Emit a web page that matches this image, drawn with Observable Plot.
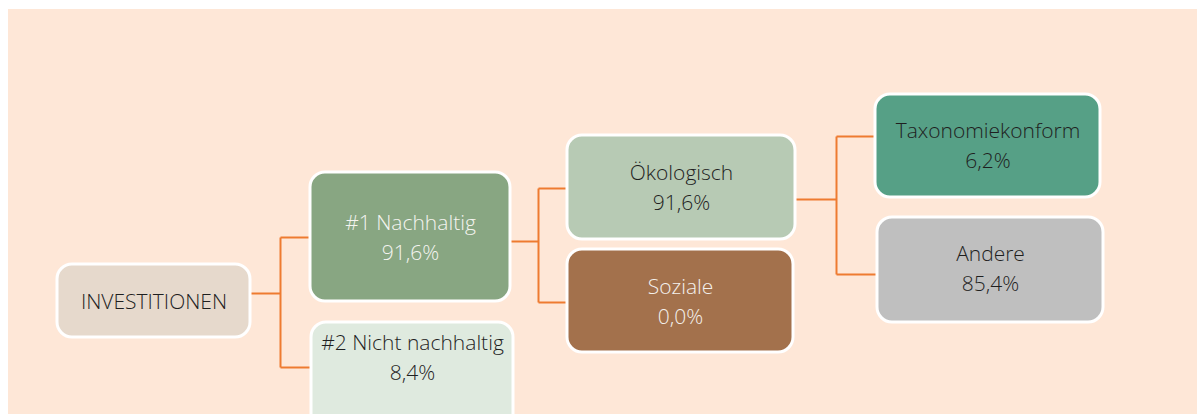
<!DOCTYPE html>
<html>
<head>
<meta charset="utf-8">
<script src="https://cdn.jsdelivr.net/npm/d3@7"></script>
<script src="https://cdn.jsdelivr.net/npm/@observablehq/plot@0.6"></script>
<style>
  html, body { margin: 0; padding: 0; background: #ffffff; overflow: hidden; }
  #chart { position: absolute; left: 8px; top: 9px; }
  #chart svg { background: #fee7d7; display: block; }
</style>
</head>
<body>
<div id="chart"></div>
<script>
// ---- data ----
const nodes   = ["INVESTITIONEN", "#1 Nachhaltig", "#2 Nicht nachhaltig", "Ökologisch", "Soziale", "Taxonomiekonform", "Andere"];
const shares  = [null, 91.6, 8.4, 91.6, 0.0, 6.2, 85.4];
const parents = [null, "INVESTITIONEN", "INVESTITIONEN", "#1 Nachhaltig", "#1 Nachhaltig", "Ökologisch", "Ökologisch"];

// ---- layout (page pixel units, mapped through Plot's x / y scales) ----
const layout = {
  "INVESTITIONEN":       {x1: 57,  x2: 250,  y1: 264, y2: 337, outY: 293, textY: 299, fill: "#e6d9cc", ink: "#1f1f1f", splitX: 280},
  "#1 Nachhaltig":       {x1: 310, x2: 510,  y1: 172, y2: 301, inY: 237, outY: 241, textY: 235, fill: "#88a682", ink: "#f4f4f0", splitX: 538},
  "#2 Nicht nachhaltig": {x1: 311, x2: 513,  y1: 322, y2: 440, inY: 367, textY: 355, fill: "#dfeadf", ink: "#1f1f1f"},
  "Ökologisch":          {x1: 567, x2: 795,  y1: 135, y2: 239, inY: 188, outY: 199, textY: 185, fill: "#b7cab4", ink: "#1f1f1f", splitX: 836},
  "Soziale":             {x1: 567, x2: 793,  y1: 249, y2: 352, inY: 302, textY: 299, fill: "#a3714c", ink: "#f4f0ec"},
  "Taxonomiekonform":    {x1: 875, x2: 1100, y1: 94,  y2: 197, inY: 136, textY: 143, fill: "#56a086", ink: "#1f1f1f"},
  "Andere":              {x1: 877, x2: 1103, y1: 217, y2: 322, inY: 274, textY: 266, fill: "#bfbfbf", ink: "#1f1f1f"}
};

const fmt = v => v == null ? "" : v.toFixed(1).replace(".", ",") + "%";

const boxes = nodes.map((name, i) => ({
  name, value: shares[i], parent: parents[i], ...layout[name],
  label: shares[i] == null ? name : name + "\n" + fmt(shares[i])
}));

// connectors (elbow links from parent to children)
const links = [];
for (const p of boxes) {
  const kids = boxes.filter(b => b.parent === p.name);
  if (!kids.length) continue;
  const sx = p.splitX;
  links.push({x1: p.x2, y1: p.outY, x2: sx, y2: p.outY});
  const ys = kids.map(k => k.inY);
  links.push({x1: sx, y1: d3.min(ys), x2: sx, y2: d3.max(ys)});
  for (const k of kids) links.push({x1: sx, y1: k.inY, x2: k.x1, y2: k.inY});
}

const W = 1189, H = 405;
const chart = Plot.plot({
  width: W,
  height: H,
  margin: 0,
  x: {domain: [8, 8 + W], axis: null},
  y: {domain: [9, 9 + H], reverse: true, axis: null},
  style: {background: "#fee7d7", overflow: "hidden"},
  marks: [
    Plot.link(links, {x1: "x1", y1: "y1", x2: "x2", y2: "y2", stroke: "#ee7b30", strokeWidth: 2}),
    Plot.rect(boxes, {x1: "x1", x2: "x2", y1: "y1", y2: "y2", fill: "fill", stroke: "#ffffff", strokeWidth: 3, rx: 15}),
    Plot.text(boxes, {
      x: d => (d.x1 + d.x2) / 2, y: "textY", text: "label", fill: "ink",
      fontSize: 21, lineHeight: 1.42, fontFamily: "'Open Sans', sans-serif", fontWeight: 300
    })
  ]
});
document.getElementById("chart").appendChild(chart);
</script>
</body>
</html>
